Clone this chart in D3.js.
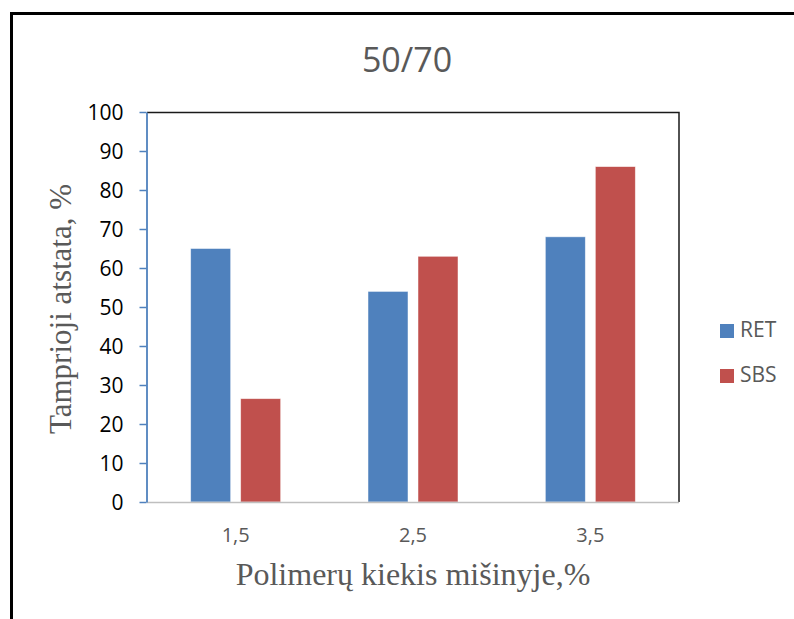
<!DOCTYPE html>
<html>
<head>
<meta charset="utf-8">
<script src="https://cdn.jsdelivr.net/npm/d3@7/dist/d3.min.js"></script>
<style>
  html, body { margin: 0; padding: 0; background: #fff; }
  svg { display: block; }
</style>
</head>
<body>
<svg id="chart" width="794" height="619"></svg>
<script>
// Data
const categories = ["1,5", "2,5", "3,5"];
const seriesNames = ["RET", "SBS"];
const retValues = [65, 54, 68];
const sbsValues = [26.5, 63, 86];
const yTicks = [0, 10, 20, 30, 40, 50, 60, 70, 80, 90, 100];
const seriesColors = ["#4F81BD", "#C0504D"];

const svg = d3.select("#chart");

// Outer frame (top and left edges visible)
svg.append("path")
  .attr("d", "M11.5,619 L11.5,13.5 L794,13.5")
  .attr("fill", "none")
  .attr("stroke", "#000")
  .attr("stroke-width", 3);

// Plot area
const plot = { left: 147, right: 679, top: 112, bottom: 502 };

const x = d3.scaleBand()
  .domain(categories)
  .range([plot.left, plot.right]);

const xs = d3.scaleBand()
  .domain(seriesNames)
  .range([0, 90])
  .paddingInner(0.2);

const y = d3.scaleLinear()
  .domain([0, 100])
  .range([plot.bottom, plot.top]);

// Plot area border
svg.append("path")
  .attr("d", `M${plot.left},${plot.top + 0.5} L${plot.right},${plot.top + 0.5} L${plot.right},${plot.bottom}`)
  .attr("fill", "none")
  .attr("stroke", "#1a1a1a")
  .attr("stroke-width", 1.5);

// Bars
const rows = categories.map((c, i) => ({ cat: c, values: [retValues[i], sbsValues[i]] }));
const groups = svg.append("g").selectAll("g")
  .data(rows)
  .join("g")
  .attr("transform", d => `translate(${x(d.cat) + x.bandwidth() / 2 - 45},0)`);

groups.selectAll("rect")
  .data(d => d.values.map((v, j) => ({ name: seriesNames[j], v, j })))
  .join("rect")
  .attr("x", d => xs(d.name))
  .attr("width", xs.bandwidth())
  .attr("y", d => y(d.v))
  .attr("height", d => y(0) - y(d.v))
  .attr("fill", d => seriesColors[d.j])
  .attr("stroke", "#fff")
  .attr("stroke-opacity", 0.6)
  .attr("stroke-width", 0.8);

// X axis line
svg.append("line")
  .attr("x1", plot.left).attr("x2", plot.right)
  .attr("y1", plot.bottom + 0.5).attr("y2", plot.bottom + 0.5)
  .attr("stroke", "#BFBFBF")
  .attr("stroke-width", 1.5);

// Y axis
const yAxis = svg.append("g")
  .attr("transform", `translate(${plot.left - 0.5},0)`)
  .call(d3.axisLeft(y).tickValues(yTicks).tickSize(7).tickSizeOuter(0).tickPadding(16));
yAxis.select(".domain").attr("stroke", "#4F81BD").attr("stroke-width", 1.8);
yAxis.selectAll(".tick line").attr("stroke", "#4F81BD").attr("stroke-width", 1.5);
yAxis.selectAll(".tick text")
  .attr("fill", "#000")
  .attr("font-family", "'Open Sans', sans-serif")
  .attr("font-size", 21)
  .attr("dy", "0.36em");

// X tick labels
svg.append("g").selectAll("text")
  .data(categories)
  .join("text")
  .attr("x", d => x(d) + x.bandwidth() / 2)
  .attr("y", 542)
  .attr("text-anchor", "middle")
  .attr("fill", "#595959")
  .attr("font-family", "'Open Sans', sans-serif")
  .attr("font-size", 20)
  .text(d => d);

// Title
svg.append("text")
  .attr("x", 407)
  .attr("y", 72)
  .attr("text-anchor", "middle")
  .attr("fill", "#595959")
  .attr("font-family", "'Open Sans', sans-serif")
  .attr("font-size", 34)
  .text("50/70");

// Axis titles
svg.append("text")
  .attr("transform", "translate(71,309) rotate(-90)")
  .attr("text-anchor", "middle")
  .attr("fill", "#595959")
  .attr("font-family", "'Liberation Serif', 'Times New Roman', serif")
  .attr("font-size", 31)
  .text("Tamprioji atstata, %");

svg.append("text")
  .attr("x", 413)
  .attr("y", 585)
  .attr("text-anchor", "middle")
  .attr("fill", "#595959")
  .attr("font-family", "'Liberation Serif', 'Times New Roman', serif")
  .attr("font-size", 32)
  .text("Polimerų kiekis mišinyje,%");

// Legend
const legend = svg.append("g").selectAll("g")
  .data(seriesNames)
  .join("g")
  .attr("transform", (d, i) => `translate(720,${324 + i * 45})`);
legend.append("rect")
  .attr("width", 14).attr("height", 14)
  .attr("fill", (d, i) => seriesColors[i]);
legend.append("text")
  .attr("x", 20)
  .attr("y", 13)
  .attr("fill", "#595959")
  .attr("font-family", "'Open Sans', sans-serif")
  .attr("font-size", 21)
  .text(d => d);
</script>
</body>
</html>
